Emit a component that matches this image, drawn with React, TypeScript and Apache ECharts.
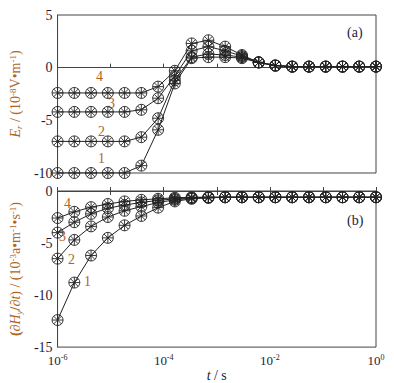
import React, { useEffect, useRef } from "react";
import * as echarts from "echarts";

const times = [1e-6, 2.07e-6, 4.28e-6, 8.86e-6, 1.83e-5, 3.79e-5, 7.85e-5, 1.62e-4, 3.36e-4, 6.95e-4, 1.44e-3, 2.98e-3, 6.16e-3, 1.27e-2, 2.64e-2, 5.46e-2, 0.113, 0.234, 0.483, 1];

const er1 = [-10, -10, -10, -10, -10, -9.3, -5.9, -1.5, 0.9, 1.0, 1.0, 0.9, 0.5, 0.2, 0.1, 0.1, 0.1, 0.1, 0.1, 0.1];
const er2 = [-7, -7, -7, -7, -7, -6.6, -4.8, -1.2, 1.0, 1.3, 1.2, 1.0, 0.5, 0.2, 0.1, 0.1, 0.1, 0.1, 0.1, 0.1];
const er3 = [-4.2, -4.2, -4.2, -4.2, -4.2, -4.0, -2.9, -0.8, 1.6, 2.0, 1.6, 1.1, 0.5, 0.2, 0.1, 0.1, 0.1, 0.1, 0.1, 0.1];
const er4 = [-2.4, -2.4, -2.4, -2.4, -2.4, -2.4, -1.8, -0.3, 2.3, 2.6, 2.0, 1.2, 0.5, 0.2, 0.1, 0.1, 0.1, 0.1, 0.1, 0.1];

const dh1 = [-12.4, -8.8, -6.2, -4.5, -3.3, -2.4, -1.6, -1.0, -0.75, -0.65, -0.6, -0.6, -0.6, -0.6, -0.6, -0.6, -0.6, -0.6, -0.6, -0.6];
const dh2 = [-6.5, -4.7, -3.4, -2.5, -1.9, -1.5, -1.1, -0.85, -0.7, -0.65, -0.6, -0.6, -0.6, -0.6, -0.6, -0.6, -0.6, -0.6, -0.6, -0.6];
const dh3 = [-4.0, -3.0, -2.2, -1.65, -1.35, -1.1, -0.9, -0.75, -0.65, -0.6, -0.6, -0.6, -0.6, -0.6, -0.6, -0.6, -0.6, -0.6, -0.6, -0.6];
const dh4 = [-2.6, -2.0, -1.55, -1.25, -1.0, -0.85, -0.75, -0.65, -0.6, -0.6, -0.6, -0.6, -0.6, -0.6, -0.6, -0.6, -0.6, -0.6, -0.6, -0.6];

const curveLabels = ["1", "2", "3", "4"];

const SYMBOL =
  "path://M0,-5A5,5 0 1,1 0,5A5,5 0 1,1 0,-5ZM-5,0L5,0M0,-5L0,5M-3.5,-3.5L3.5,3.5M-3.5,3.5L3.5,-3.5";

const FONT = "Liberation Serif";
const TICK_COLOR = "#1c1c3c";
const TITLE_COLOR = "#b0651e";
const LINE_COLOR = "#222";

const supRich = {
  base: { fontSize: 13, fontFamily: FONT, color: TICK_COLOR },
  sup: { fontSize: 8, fontFamily: FONT, color: TICK_COLOR, verticalAlign: "top", padding: [0, 0, 7, 0] },
};

export default function App() {
  const ref = useRef<HTMLDivElement>(null);
  useEffect(() => {
    document.body.style.margin = "0";
    if (!ref.current) return;
    const chart = echarts.init(ref.current, null, { renderer: "svg" });

    const mk = (vals: number[], xi: number, yi: number) => ({
      type: "line",
      xAxisIndex: xi,
      yAxisIndex: yi,
      data: times.map((t, i) => [t, vals[i]]),
      symbol: SYMBOL,
      symbolSize: 11,
      showAllSymbol: true,
      lineStyle: { color: LINE_COLOR, width: 1 },
      itemStyle: { color: "rgba(0,0,0,0)", borderColor: LINE_COLOR, borderWidth: 0.9 },
      emphasis: { disabled: true },
      z: 3,
    });

    const xLabel = {
      fontFamily: FONT,
      color: TICK_COLOR,
      margin: 6,
      formatter: (v: number) => {
        const e = Math.round(Math.log10(v));
        if (e % 2 !== 0) return "";
        return `{base|10}{sup|${e}}`;
      },
      rich: supRich,
    };

    const baseX = (gi: number, showLabel: boolean, pos: string) => ({
      type: "log",
      logBase: 10,
      gridIndex: gi,
      min: 1e-6,
      max: 1,
      position: pos,
      axisLine: { show: true, lineStyle: { color: "#444", width: 1 } },
      axisTick: { show: true, inside: true, length: 4, lineStyle: { color: "#444" } },
      axisLabel: showLabel ? xLabel : { show: false },
      minorTick: { show: false },
      splitLine: { show: false },
    });

    const titleRich = {
      i: { fontSize: 14, fontFamily: FONT, fontStyle: "italic", color: TITLE_COLOR },
      n: { fontSize: 14, fontFamily: FONT, color: TITLE_COLOR },
      d: { fontSize: 14, fontFamily: FONT, fontWeight: "bold", color: TITLE_COLOR },
      sub: { fontSize: 9, fontFamily: FONT, fontStyle: "italic", color: TITLE_COLOR, verticalAlign: "bottom", padding: [6, 0, 0, 0] },
      sup: { fontSize: 9, fontFamily: FONT, color: TITLE_COLOR, verticalAlign: "top", padding: [0, 0, 6, 0] },
    };

    const option: any = {
      animation: false,
      grid: [
        { left: 51, top: 15, width: 325, height: 158, show: true, borderColor: "#444", borderWidth: 1 },
        { left: 51, top: 191, width: 325, height: 158, show: true, borderColor: "#444", borderWidth: 1 },
      ],
      xAxis: [
        { ...baseX(0, false, "bottom") },
        {
          ...baseX(1, true, "bottom"),
          name: "{i|t} {n|/ s}",
          nameLocation: "middle",
          nameGap: 20,
          nameTextStyle: {
            rich: {
              i: { fontSize: 14, fontFamily: FONT, fontStyle: "italic", color: TICK_COLOR },
              n: { fontSize: 14, fontFamily: FONT, color: TICK_COLOR },
            },
          },
        },
        { ...baseX(1, false, "top") },
      ],
      yAxis: [
        {
          type: "value",
          gridIndex: 0,
          min: -10,
          max: 5,
          interval: 5,
          axisLine: { show: true, lineStyle: { color: "#444" } },
          axisTick: { show: false },
          splitLine: { show: false },
          axisLabel: { fontSize: 14, fontFamily: FONT, color: TICK_COLOR, margin: 5 },
          name: "{i|E}{sub|r}{n| / (10}{sup|-8}{n|V•m}{sup|-1}{n|)}",
          nameLocation: "middle",
          nameRotate: 90,
          nameGap: 25,
          nameTextStyle: { rich: titleRich, padding: [0, 0, 0, 0] },
        },
        {
          type: "value",
          gridIndex: 1,
          min: -15,
          max: 0,
          interval: 5,
          axisLine: { show: true, lineStyle: { color: "#444" } },
          axisTick: { show: false },
          splitLine: { show: false },
          axisLabel: { fontSize: 14, fontFamily: FONT, color: TICK_COLOR, margin: 5 },
          name: "{d|(∂}{i|H}{sub|y}{d|/∂}{i|t}{n|) / (10}{sup|-3}{n|a•m}{sup|-1}{n|•s}{sup|-1}{n|)}",
          nameLocation: "middle",
          nameRotate: 90,
          nameGap: 25,
          nameTextStyle: { rich: titleRich },
        },
      ],
      series: [
        mk(er1, 0, 0),
        mk(er2, 0, 0),
        mk(er3, 0, 0),
        mk(er4, 0, 0),
        mk(dh1, 1, 1),
        mk(dh2, 1, 1),
        mk(dh3, 1, 1),
        mk(dh4, 1, 1),
      ],
      graphic: [
        { type: "text", x: 347, y: 25, style: { text: "(a)", font: `14px ${FONT}`, fill: TICK_COLOR } },
        { type: "text", x: 347, y: 213, style: { text: "(b)", font: `14px ${FONT}`, fill: TICK_COLOR } },
        { type: "text", x: 98, y: 151, style: { text: curveLabels[0], font: `14px ${FONT}`, fill: TITLE_COLOR } },
        { type: "text", x: 98, y: 124, style: { text: curveLabels[1], font: `14px ${FONT}`, fill: TITLE_COLOR } },
        { type: "text", x: 108, y: 96, style: { text: curveLabels[2], font: `14px ${FONT}`, fill: TITLE_COLOR } },
        { type: "text", x: 96, y: 69, style: { text: curveLabels[3], font: `14px ${FONT}`, fill: TITLE_COLOR } },
        { type: "text", x: 84, y: 274, style: { text: curveLabels[0], font: `14px ${FONT}`, fill: TITLE_COLOR } },
        { type: "text", x: 68, y: 252, style: { text: curveLabels[1], font: `14px ${FONT}`, fill: TITLE_COLOR } },
        { type: "text", x: 59, y: 229, style: { text: curveLabels[2], font: `14px ${FONT}`, fill: TITLE_COLOR } },
        { type: "text", x: 64, y: 196, style: { text: curveLabels[3], font: `14px ${FONT}`, fill: TITLE_COLOR } },
      ],
    };
    chart.setOption(option);
    return () => chart.dispose();
  }, []);
  return <div ref={ref} style={{ width: 394, height: 383 }} />;
}
